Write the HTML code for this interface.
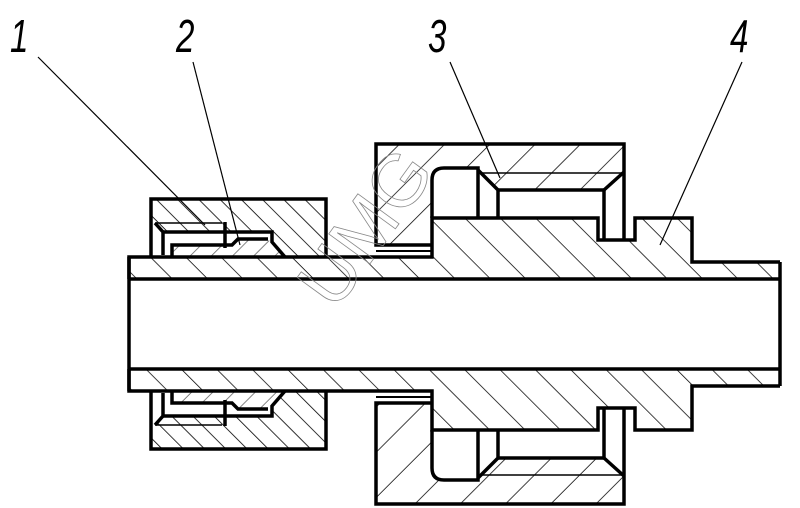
<!DOCTYPE html>
<html><head><style>html,body{margin:0;padding:0;background:#fff;}svg{display:block}</style></head>
<body>
<svg width="800" height="508" viewBox="0 0 800 508" xmlns="http://www.w3.org/2000/svg">
<defs>
<pattern id="bs25" patternUnits="userSpaceOnUse" width="25" height="25" patternTransform="rotate(45)"><line x1="0" y1="0" x2="25" y2="0" stroke="#000" stroke-width="1.6"/></pattern>
<pattern id="fs25" patternUnits="userSpaceOnUse" width="25" height="25" patternTransform="rotate(-45)"><line x1="0" y1="0" x2="25" y2="0" stroke="#000" stroke-width="1.6"/></pattern>
<pattern id="bs15" patternUnits="userSpaceOnUse" width="15" height="15" patternTransform="rotate(45)"><line x1="0" y1="0" x2="15" y2="0" stroke="#000" stroke-width="1.6"/></pattern>
<pattern id="fs15" patternUnits="userSpaceOnUse" width="15" height="15" patternTransform="rotate(-45)"><line x1="0" y1="0" x2="15" y2="0" stroke="#000" stroke-width="1.6"/></pattern>
<pattern id="fs32" patternUnits="userSpaceOnUse" width="32" height="32" patternTransform="rotate(-45)"><line x1="0" y1="0" x2="32" y2="0" stroke="#000" stroke-width="1.6"/></pattern>
<pattern id="bs32" patternUnits="userSpaceOnUse" width="32" height="32" patternTransform="rotate(45)"><line x1="0" y1="0" x2="32" y2="0" stroke="#000" stroke-width="1.6"/></pattern>
<g id="half-shapes" fill="none" stroke="#000" stroke-width="3.5" stroke-linejoin="miter">
  <polyline points="129,279 129,257 432,257 432,218 598,218 598,240 635,240 635,218 692,218 692,262 780,262"/>
  <polyline points="432,245 376,245 376,144 624,144 624,240"/>
  <path d="M432,218 L432,180 Q432,168 444,168 L478,168 L478,218"/>
  <polyline points="478,170 498,190 498,218"/>
  <polyline points="498,190 604,190 604,240"/>
  <line x1="604" y1="190" x2="624" y2="172"/>
  <line x1="376" y1="251" x2="432" y2="251" stroke-width="2"/>
  <line x1="478" y1="173" x2="624" y2="173" stroke-width="1.6"/>
  <polyline points="151,257 151,199 326,199 326,257"/>
  <line x1="155" y1="223" x2="222" y2="223" stroke-width="1.6"/>
  <polyline points="155,223 163,232 163,255"/>
  <polyline points="163,232 272,232 272,242 285,257"/>
  <line x1="225" y1="222" x2="225" y2="248"/>
  <polyline points="172,257 172,245 232,245 238,239 268,239" />
  <line x1="240" y1="238" x2="268" y2="238" stroke-width="1"/>
</g>
</defs>

<polygon points="129,257 432,257 432,218 598,218 598,240 635,240 635,218 692,218 692,262 780,262 780,279 129,279" fill="url(#bs25)"/>
<path d="M376,144 L624,144 L624,172 L604,190 L498,190 L478,170 L478,168 L444,168 Q432,168 432,180 L432,245 L376,245 Z" fill="url(#fs32)"/>
<polygon points="151,199 326,199 326,257 285,257 272,242 272,232 163,232 155,223 151,223" fill="url(#bs15)"/>
<polygon points="172,257 172,245 232,245 238,239 268,239 283,257" fill="url(#fs15)" opacity="0.6"/>
<use href="#half-shapes"/>

<g transform="translate(0,648) scale(1,-1)">
<polygon points="129,257 432,257 432,218 598,218 598,240 635,240 635,218 692,218 692,262 780,262 780,279 129,279" fill="url(#fs25)"/>
<path d="M376,144 L624,144 L624,172 L604,190 L498,190 L478,170 L478,168 L444,168 Q432,168 432,180 L432,245 L376,245 Z" fill="url(#bs32)"/>
<polygon points="151,199 326,199 326,257 285,257 272,242 272,232 163,232 155,223 151,223" fill="url(#fs15)"/>
<polygon points="172,257 172,245 232,245 238,239 268,239 283,257" fill="url(#bs15)" opacity="0.6"/>
<use href="#half-shapes"/>
</g>

<g stroke="#000" stroke-width="3.5" fill="none">
<line x1="129" y1="279" x2="780" y2="279"/>
<line x1="129" y1="369" x2="780" y2="369"/>
<line x1="129" y1="257" x2="129" y2="391"/>
<line x1="780" y1="262" x2="780" y2="386"/>
</g>
<rect x="131" y="281" width="647" height="86" fill="#fff"/>

<g stroke="#000" stroke-width="1.2">
<line x1="38" y1="57" x2="205" y2="225"/>
<line x1="193" y1="62" x2="240" y2="245"/>
<line x1="450" y1="62" x2="500" y2="178"/>
<line x1="742" y1="62" x2="660" y2="245"/>
</g>
<g font-family="Liberation Sans, sans-serif" font-style="italic" font-size="46" fill="#000" font-weight="normal">
<text transform="translate(10,52) scale(0.72,1)">1</text>
<text transform="translate(176,52) scale(0.72,1)">2</text>
<text transform="translate(428,52) scale(0.72,1)">3</text>
<text transform="translate(730,52) scale(0.72,1)">4</text>
</g>
<text x="0" y="0" transform="translate(335,312) rotate(-54)" font-family="Liberation Sans, sans-serif" font-size="74" fill="none" stroke="#888" stroke-width="0.8">UMG</text>
</svg>
</body></html>
